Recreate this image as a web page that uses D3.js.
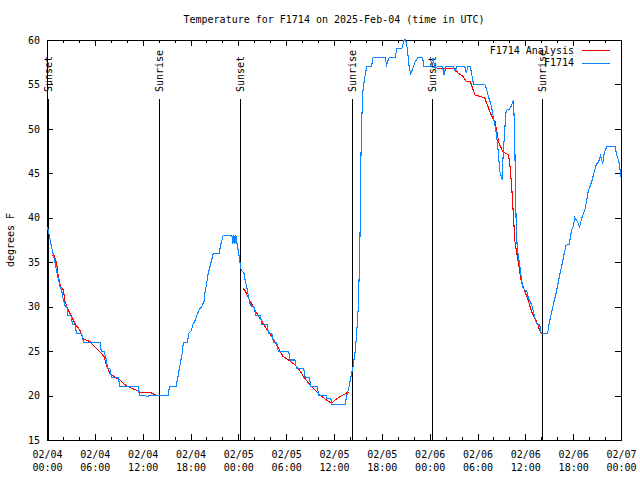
<!DOCTYPE html>
<html>
<head>
<meta charset="utf-8">
<script src="https://cdn.jsdelivr.net/npm/d3@7"></script>
<style>
  body { margin: 0; background: #fff; }
  text { font-family: "DejaVu Sans Mono", monospace; font-size: 10px; fill: #000; }
</style>
</head>
<body>
<svg id="chart" width="640" height="480"></svg>
<script>
// hours after 2025-02-04 00:00 UTC, temperature in F
var obsSeries = [
  [0.05,39],[0.3,38],[0.5,37],[0.75,36],[1.0,35],[1.2,34],[1.45,33],[1.7,32],[1.8,32],[2.0,31],
  [2.3,30],[2.5,30],[2.6,29],[3.0,29],[3.2,28],[3.5,28],[3.7,27],[4.35,27],[4.6,26],[6.65,26],
  [6.8,25],[7.15,25],[7.45,24],[7.6,23],[7.9,23],[8.1,22],[8.95,22],[9.15,21],[11.45,21],[11.6,20],
  [12.3,20],[12.5,19.9],[13.0,20],[14.2,20],[15.2,20],[15.35,21],[16.2,21],[16.4,22],[16.6,23],[16.8,24],
  [17.0,25],[17.1,26],[17.6,26],[17.8,27],[18.1,27.3],[18.3,28],[18.6,28.5],[18.8,29],[19.1,29.7],[19.4,30],
  [19.7,30.6],[19.8,31.5],[20.0,32.5],[20.2,33.6],[20.45,34.5],[20.66,35.3],[20.86,36],[21.6,36],[21.8,37],[22.1,38],
  [23.2,38],[23.3,37],[23.45,38],[23.55,37],[23.7,38],[23.85,37],[24.05,36],[24.2,35],[24.3,34.3],[24.45,34],
  [24.7,33.8],[24.85,33],[25.1,32],[25.3,31],[25.5,30.2],[25.7,30],[25.95,30],[26.2,29],[26.8,29],[26.9,28],
  [27.6,28],[27.8,27],[28.2,27],[28.4,26],[28.8,26],[29.0,25],[30.3,25],[30.5,24],[31.1,24],[31.3,23],
  [32.2,23],[32.4,22],[32.9,22],[33.1,21],[33.9,21],[34.1,20],[35.0,20],[35.1,19.7],[35.6,19.7],[35.75,19],
  [37.4,19],[37.6,20],[37.9,21],[38.1,22],[38.4,23.3],[38.7,25.3],[38.9,27.8],[39.05,30],[39.2,35],[39.3,40],
  [39.35,45.7],[39.5,51.4],[39.6,54],[39.8,55.5],[40.1,57],[40.7,57],[40.9,58],[42.4,58],[42.6,57.2],[42.9,58],
  [43.65,58],[43.9,59],[44.5,59],[44.8,60],[45.0,60],[45.2,59],[45.4,57.2],[45.6,56.2],[45.9,56.8],[46.2,57.6],
  [46.5,58],[47.1,58],[47.3,57],[48.1,57],[48.4,58],[48.7,56.8],[49.0,57],[49.6,57],[49.8,56.1],[50.05,57],
  [50.95,57],[51.2,56.5],[51.4,57],[52.4,57],[52.6,56.3],[52.8,57],[53.1,57],[53.2,56.5],[53.5,55],[54.9,55],
  [55.1,54.6],[55.4,53.5],[55.6,53],[55.8,52.3],[56.1,50.8],[56.4,49.3],[56.6,47.4],[56.8,45.2],[57.1,44.3],[57.2,46.7],
  [57.4,49.7],[57.6,52.1],[58.0,52.2],[58.3,52.7],[58.5,53.2],[58.6,51.2],[58.7,47.1],[58.8,41.4],[58.9,37.7],[59.1,35.8],
  [59.3,34.7],[59.5,33.2],[59.7,32.1],[60.2,31.7],[60.4,30.9],[60.8,30.2],[61.1,29.1],[61.4,28.1],[61.8,28],[62.0,27],
  [62.8,27],[63.0,28.2],[63.4,29.8],[63.9,31.7],[64.3,33.5],[64.75,35.4],[65.1,36.9],[65.5,37],[65.8,38.6],[66.0,39],
  [66.2,40],[66.5,39.6],[66.8,39],[67.1,40],[67.5,41],[67.9,43],[68.3,44],[68.6,45],[68.9,46],[69.2,46.3],
  [69.45,47],[69.7,46.1],[69.9,47.25],[70.2,48],[71.25,48],[71.45,47.1],[71.8,46.1],[71.9,45.2],[72,44.6]
];

// analysis only at night; null breaks the line
var analysisSeries = [
  [0.66,35.8],[0.9,35.8],[1.2,34.9],[1.42,33.4],[1.7,32.2],[2.05,31.9],[2.26,30.6],[2.67,29.6],[3.1,28.9],[3.5,28.1],
  [4.1,27.4],[4.55,26.4],[5.4,26.05],[6.0,25.5],[6.65,24.9],[7.15,24.4],[7.5,23.25],[7.9,22.5],[8.5,22.1],[9.16,21.75],
  [9.8,21.2],[10.4,20.9],[11.25,20.6],[11.67,20.35],[12.5,20.3],[12.9,20.4],[13.5,20.1],[13.75,20],
  [14,null],
  [24.6,32],[24.8,31.9],[25.1,31.3],[25.5,30.6],[26.1,29.6],[26.7,28.7],[27.6,27.4],[28.2,26.6],[28.8,25.7],[29.6,24.4],
  [30.3,24],[30.9,23.6],[31.5,23.1],[32.2,22.1],[32.8,21.4],[33.4,20.8],[34.2,20.1],[34.9,19.6],[35.7,19.1],[36.1,19.5],
  [36.8,19.9],[37.4,20.2],[37.8,20.4],
  [40,null],
  [48.7,56.9],[49.3,56.75],[51.2,56.75],[51.6,56.25],[52.2,55.9],[52.6,55.3],[53.1,55.3],[53.7,53.8],[54.9,53.5],[55.4,52.3],
  [55.8,51.4],[56.2,50.8],[56.5,49.3],[56.7,48.4],[57.2,47.4],[57.9,47.1],[58.1,45.6],[58.3,43.3],[58.5,40.3],[58.7,37.3],
  [59.1,35.05],[59.5,32.8],[59.96,31.7],[60.4,30.6],[60.8,29.4],[61.2,28.7],[61.6,27.9],[61.8,27.3],[62.0,27.0]
];

var sunEvents = [
  [0.12,'Sunset'],[14.08,'Sunrise'],[24.25,'Sunset'],[38.2,'Sunrise'],[48.33,'Sunset'],[62.13,'Sunrise']
];

var yTicks = [15,20,25,30,35,40,45,50,55,60];
var legendLabels = ['F1714 Analysis','F1714'];
var titleText = 'Temperature for F1714 on 2025-Feb-04 (time in UTC)';
var yLabel = 'degrees F';

var start = Date.UTC(2025,1,4);
function toDate(h){ return new Date(start + h*3600000); }

var plotL = 47, plotR = 621, plotT = 40, plotB = 440;
var svg = d3.select('#chart');

var xScale = d3.scaleUtc()
  .domain([toDate(0), toDate(72)])
  .range([plotL,plotR]);
var yScale = d3.scaleLinear()
  .domain([15,60])
  .range([plotB,plotT]);

var fmtDay = d3.utcFormat('%m/%d');
var fmtTime = d3.utcFormat('%H:%M');

// minor ticks
var minorTicks = d3.utcHour.every(2).range(toDate(0), toDate(72.1));
svg.append('g').attr('transform','translate(0,'+plotB+')')
  .call(d3.axisBottom(xScale).tickValues(minorTicks).tickSizeInner(-3).tickSizeOuter(0).tickFormat(''))
  .call(function(g){ g.select('.domain').remove(); });
svg.append('g').attr('transform','translate(0,'+plotT+')')
  .call(d3.axisTop(xScale).tickValues(minorTicks).tickSizeInner(-3).tickSizeOuter(0).tickFormat(''))
  .call(function(g){ g.select('.domain').remove(); });

// major ticks
var majorTicks = d3.utcHour.every(6).range(toDate(0), toDate(72.1));
var xAxis = svg.append('g').attr('transform','translate(0,'+plotB+')')
  .call(d3.axisBottom(xScale).tickValues(majorTicks).tickSizeInner(-6).tickSizeOuter(0).tickPadding(10));
xAxis.select('.domain').remove();
xAxis.selectAll('.tick text').each(function(d){
  var t = d3.select(this).text('').attr('dy',null).attr('y',17.5);
  t.append('tspan').attr('x',0).text(fmtDay(d));
  t.append('tspan').attr('x',0).attr('dy',13.5).text(fmtTime(d));
});
svg.append('g').attr('transform','translate(0,'+plotT+')')
  .call(d3.axisTop(xScale).tickValues(majorTicks).tickSizeInner(-6).tickSizeOuter(0).tickFormat(''))
  .call(function(g){ g.select('.domain').remove(); });

svg.append('g').attr('transform','translate('+plotL+',0)')
  .call(d3.axisLeft(yScale).tickValues(yTicks).tickSizeInner(-6).tickSizeOuter(0).tickPadding(7))
  .call(function(g){ g.select('.domain').remove(); });
svg.append('g').attr('transform','translate('+plotR+',0)')
  .call(d3.axisRight(yScale).tickValues(yTicks).tickSizeInner(-6).tickSizeOuter(0).tickFormat(''))
  .call(function(g){ g.select('.domain').remove(); });

svg.selectAll('.tick line').attr('stroke','#000').attr('shape-rendering','crispEdges');
svg.selectAll('.tick text').attr('font-family','"DejaVu Sans Mono", monospace').attr('font-size',10);

// border
svg.append('rect')
  .attr('x',plotL).attr('y',plotT).attr('width',plotR-plotL).attr('height',plotB-plotT)
  .attr('fill','none').attr('stroke','#000').attr('shape-rendering','crispEdges');

// sunrise / sunset
var sun = svg.append('g');
sunEvents.forEach(function(e){
  var sx = Math.round(xScale(toDate(e[0]))) + 0.5;
  sun.append('line')
    .attr('x1',sx).attr('x2',sx).attr('y1',99).attr('y2',plotB)
    .attr('stroke','#000').attr('stroke-width',1);
  sun.append('text')
    .attr('transform','translate('+sx+',92) rotate(-90)')
    .attr('dy','0.35em')
    .text(e[1]);
});

var lineGen = d3.line()
  .defined(function(d){ return d[1] !== null; })
  .x(function(d){ return xScale(toDate(d[0])); })
  .y(function(d){ return yScale(d[1]); });

var red = '#ff0000', blue = '#0a84ff';

svg.append('path').datum(analysisSeries)
  .attr('fill','none').attr('stroke',red).attr('stroke-width',1.1)
  .attr('shape-rendering','crispEdges')
  .attr('d',lineGen);
svg.append('path').datum(obsSeries)
  .attr('fill','none').attr('stroke',blue).attr('stroke-width',1.1)
  .attr('shape-rendering','crispEdges')
  .attr('d',lineGen);

// legend
var legendColors = [red, blue];
legendLabels.forEach(function(lbl,i){
  var ly = 50 + i*12.5;
  svg.append('text').attr('x',574).attr('y',ly).attr('dy','0.35em')
    .attr('text-anchor','end').text(lbl);
  svg.append('line').attr('x1',582).attr('x2',610).attr('y1',Math.round(ly)+0.5).attr('y2',Math.round(ly)+0.5)
    .attr('stroke',legendColors[i]).attr('stroke-width',1);
});

// title and axis label
svg.append('text').attr('x',334).attr('y',23).attr('text-anchor','middle').text(titleText);
svg.append('text')
  .attr('transform','translate(10,240) rotate(-90)')
  .attr('text-anchor','middle').attr('dy','0.35em')
  .text(yLabel);
</script>
</body>
</html>
